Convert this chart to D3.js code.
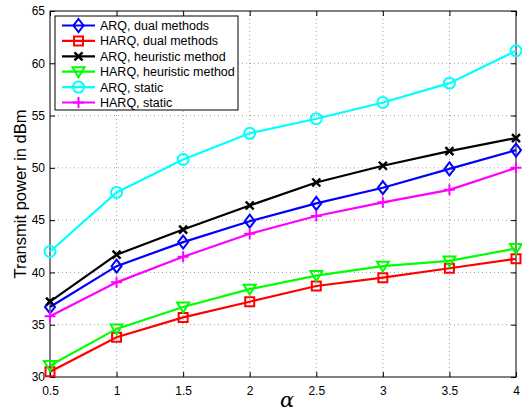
<!DOCTYPE html>
<meta charset="utf-8">
<script src="https://d3js.org/d3.v7.min.js"></script>
<style>
  body { margin: 0; background: #fff; }
  text { font-family: "Liberation Sans", Arial, sans-serif; }
</style>
<div id="chart"></div>
<script>

// data
var alphas = [0.5, 1, 1.5, 2, 2.5, 3, 3.5, 4];
var arqDual      = [36.7, 40.6, 42.9, 44.9, 46.6, 48.1, 49.9, 51.7];
var harqDual     = [30.5, 33.8, 35.7, 37.2, 38.7, 39.5, 40.4, 41.3];
var arqHeur      = [37.2, 41.7, 44.1, 46.4, 48.6, 50.2, 51.6, 52.85];
var harqHeur     = [31.1, 34.6, 36.7, 38.4, 39.7, 40.6, 41.1, 42.3];
var arqStatic    = [42.0, 47.65, 50.8, 53.3, 54.7, 56.25, 58.1, 61.2];
var harqStatic   = [35.8, 39.05, 41.5, 43.7, 45.4, 46.7, 47.9, 50.0];
var seriesNames  = ["ARQ, dual methods", "HARQ, dual methods", "ARQ, heuristic method",
                    "HARQ, heuristic method", "ARQ, static", "HARQ, static"];
var xTicks = [0.5, 1, 1.5, 2, 2.5, 3, 3.5, 4];
var yTicks = [30, 35, 40, 45, 50, 55, 60, 65];

var series = [
  {name: seriesNames[0], values: arqDual,    color: "#0000ff", marker: "diamond"},
  {name: seriesNames[1], values: harqDual,   color: "#ff0000", marker: "square"},
  {name: seriesNames[2], values: arqHeur,    color: "#000000", marker: "x"},
  {name: seriesNames[3], values: harqHeur,   color: "#00ff00", marker: "triangle"},
  {name: seriesNames[4], values: arqStatic,  color: "#00ffff", marker: "circle"},
  {name: seriesNames[5], values: harqStatic, color: "#ff00ff", marker: "plus"}
];

var W = 522, H = 417;
var margin = {top: 11, right: 6, bottom: 40, left: 50};
var width = W - margin.left - margin.right,
    height = H - margin.top - margin.bottom;

var svg = d3.select("#chart").append("svg")
    .attr("width", W)
    .attr("height", H);

var g = svg.append("g")
    .attr("transform", "translate(" + margin.left + "," + margin.top + ")");

var x = d3.scaleLinear().domain([0.5, 4]).range([0, width]);
var y = d3.scaleLinear().domain([30, 65]).range([height, 0]);

// grid
g.append("g").selectAll("line")
  .data(xTicks.slice(1, -1))
  .enter().append("line")
    .attr("x1", function(d) { return x(d); })
    .attr("x2", function(d) { return x(d); })
    .attr("y1", 0).attr("y2", height)
    .attr("stroke", "#888").attr("stroke-width", 0.8)
    .attr("stroke-dasharray", "1,3");
g.append("g").selectAll("line")
  .data(yTicks.slice(1, -1))
  .enter().append("line")
    .attr("y1", function(d) { return y(d); })
    .attr("y2", function(d) { return y(d); })
    .attr("x1", 0).attr("x2", width)
    .attr("stroke", "#888").attr("stroke-width", 0.8)
    .attr("stroke-dasharray", "1,3");

// axes, ticks inward like matlab
var fmt = function(d) { return String(d); };
g.append("g")
    .attr("transform", "translate(0," + height + ")")
    .call(d3.axisBottom(x).tickValues(xTicks).tickFormat(fmt).tickSizeInner(-5).tickSizeOuter(0).tickPadding(9));
g.append("g")
    .call(d3.axisLeft(y).tickValues(yTicks).tickFormat(fmt).tickSizeInner(-5).tickSizeOuter(0).tickPadding(5));
g.append("g")
    .call(d3.axisTop(x).tickValues(xTicks).tickSizeInner(-5).tickSizeOuter(0).tickFormat(""));
g.append("g")
    .attr("transform", "translate(" + width + ",0)")
    .call(d3.axisRight(y).tickValues(yTicks).tickSizeInner(-5).tickSizeOuter(0).tickFormat(""));
g.selectAll(".domain").remove();
g.selectAll(".tick line").attr("stroke", "#000");
g.selectAll(".tick text").attr("font-size", 12).attr("fill", "#000")
  .style("font-family", "Liberation Sans, Arial, sans-serif");

g.append("rect")
    .attr("width", width).attr("height", height)
    .attr("fill", "none").attr("stroke", "#000").attr("stroke-width", 1);

// markers
function markerPath(type) {
  switch (type) {
    case "diamond":  return "M0,-6.5L5,0L0,6.5L-5,0Z";
    case "square":   return "M-4.5,-4.5H4.5V4.5H-4.5Z";
    case "x":        return "M-4,-4L4,4M-4,4L4,-4";
    case "triangle": return "M-6,-4.5H6L0,5.5Z";
    case "circle":   return "M5.5,0A5.5,5.5 0 1,1 -5.5,0A5.5,5.5 0 1,1 5.5,0Z";
    case "plus":     return "M-5.5,0H5.5M0,-5.5V5.5";
  }
}

var line = d3.line()
    .x(function(d, i) { return x(alphas[i]); })
    .y(function(d) { return y(d); });

series.forEach(function(s) {
  g.append("path")
    .datum(s.values)
    .attr("d", line)
    .attr("fill", "none")
    .attr("stroke", s.color)
    .attr("stroke-width", 2.2);
  g.selectAll(null)
    .data(s.values)
    .enter().append("path")
      .attr("transform", function(d, i) { return "translate(" + x(alphas[i]) + "," + y(d) + ")"; })
      .attr("d", markerPath(s.marker))
      .attr("fill", "none")
      .attr("stroke", s.color)
      .attr("stroke-width", s.marker == "x" ? 2.4 : 2);
});

// legend
var legend = g.append("g").attr("transform", "translate(5,5)");
legend.append("rect")
    .attr("width", 183).attr("height", 94)
    .attr("fill", "#fff").attr("stroke", "#000").attr("stroke-width", 1);
series.forEach(function(s, i) {
  var ly = 9.5 + i * 15.4;
  legend.append("line")
    .attr("x1", 7).attr("x2", 40).attr("y1", ly).attr("y2", ly)
    .attr("stroke", s.color).attr("stroke-width", 2.2);
  legend.append("path")
    .attr("transform", "translate(23.5," + ly + ")")
    .attr("d", markerPath(s.marker))
    .attr("fill", "none").attr("stroke", s.color)
    .attr("stroke-width", s.marker == "x" ? 2.4 : 2);
  legend.append("text")
    .attr("x", 45).attr("y", ly + 4.5)
    .attr("font-size", 12.5)
    .text(s.name);
});

// axis labels
svg.append("text")
    .attr("transform", "translate(26," + (margin.top + height / 2) + ") rotate(-90)")
    .attr("text-anchor", "middle")
    .attr("font-size", 16.5)
    .text("Transmit power in dBm");

svg.append("text")
    .attr("x", 287)
    .attr("y", 407)
    .attr("text-anchor", "middle")
    .attr("font-size", 21)
    .style("font-family", "DejaVu Serif, Liberation Serif, serif")
    .style("font-style", "italic")
    .text("α");

</script>
